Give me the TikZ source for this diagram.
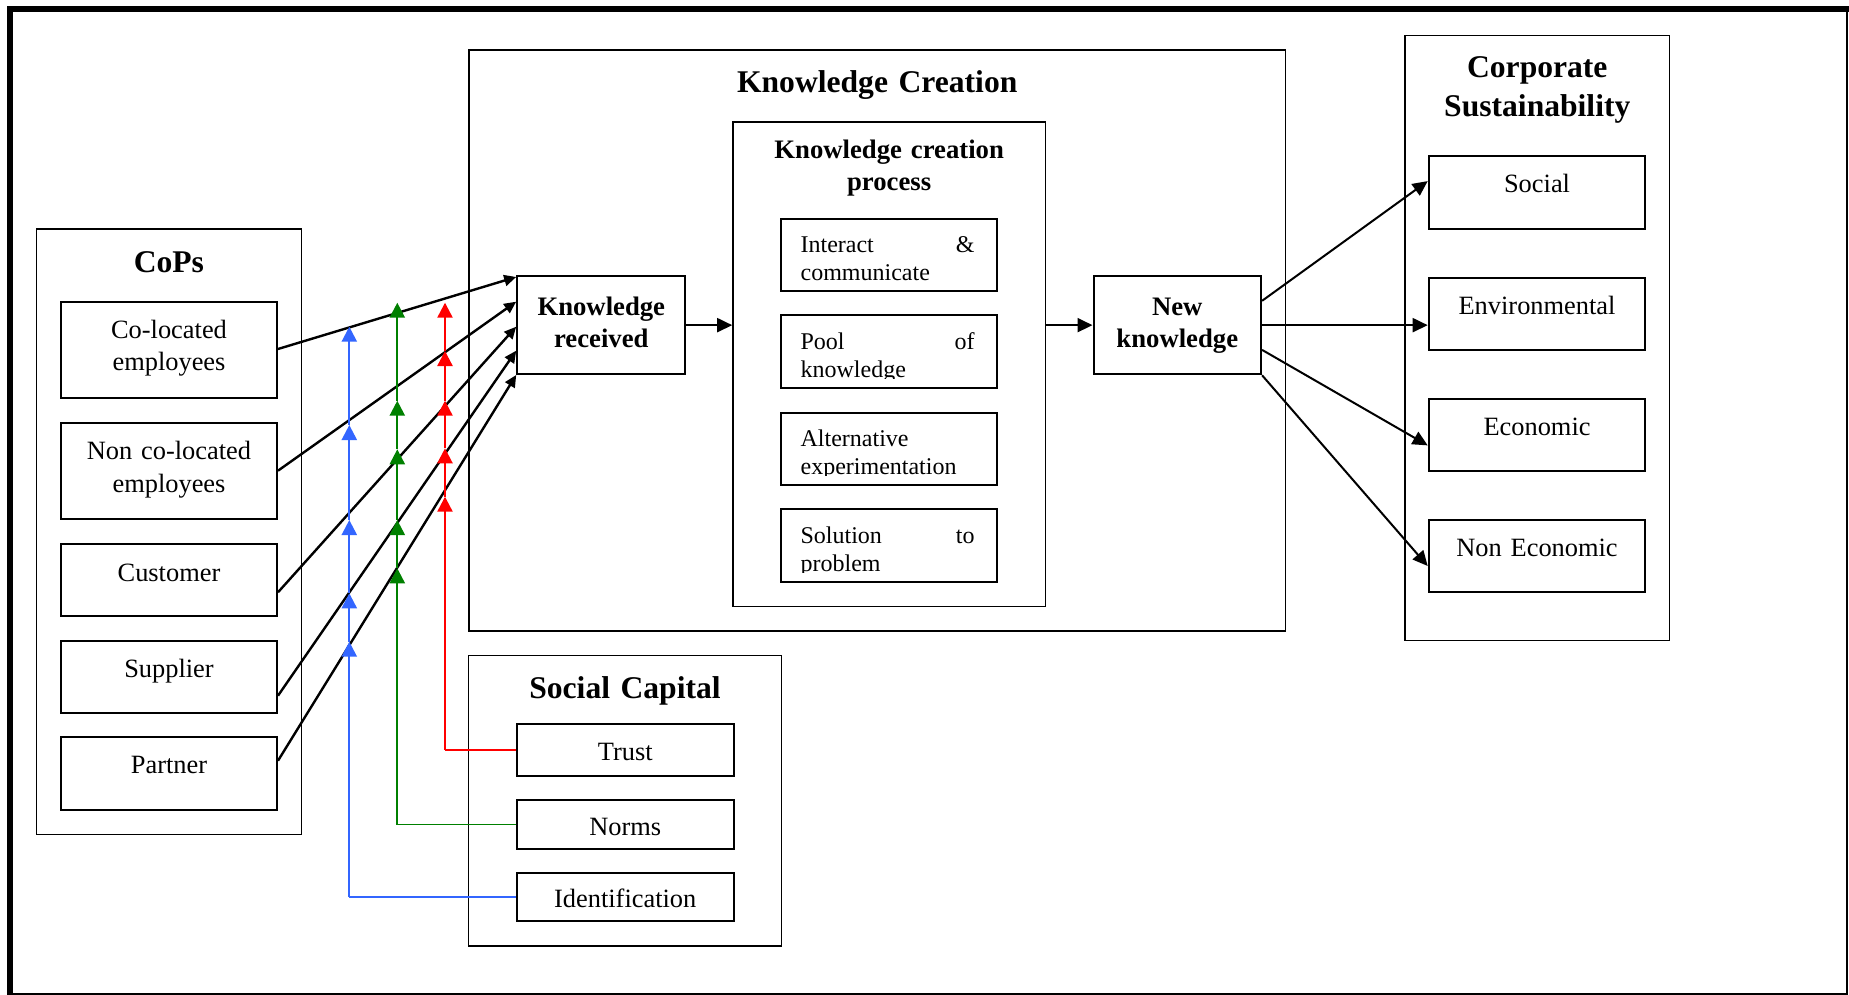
\documentclass[tikz,border=0pt]{standalone}
\usepackage{fontspec}
\setmainfont{Liberation Serif}
\usetikzlibrary{arrows.meta,calc,fit}

\definecolor{idblue}{RGB}{51,102,255}
\definecolor{nmgreen}{RGB}{0,128,0}
\definecolor{trred}{RGB}{255,0,0}

\begin{document}
\begin{tikzpicture}[x=0.5pt,y=-0.5pt,
  grp/.style={draw, line width=0.8pt, inner sep=0pt},
  ibox/.style={draw, line width=1pt, inner sep=0pt},
  ttl/.style={font=\bfseries\fontsize{15.8}{19.6}\selectfont, inner sep=0pt, text width=150pt, align=center},
  sttl/.style={font=\bfseries\fontsize{13.35}{16}\selectfont, inner sep=0pt, text width=140pt, align=center},
  itxt/.style={font=\fontsize{13.2}{16.4}\selectfont, inner sep=0pt, text width=104pt, align=center},
  ptxt/.style={font=\fontsize{12}{14}\selectfont, inner sep=0pt, text width=87pt, align=left},
  sctxt/.style={font=\fontsize{13.2}{16}\selectfont},
  conn/.style={line width=1.2pt, -{Triangle[length=6pt,width=5.5pt]}},
  conn2/.style={line width=1pt, -{Triangle[length=7.5pt,width=7pt]}},
  ctip/.style={line width=1.15pt, -{Triangle[length=7.5pt,width=7.5pt]}},
  cfeed/.style={line width=0.9pt},
]
\useasboundingbox (0,0) rectangle (1849,995);

% page frame: heavy top and left rules, light bottom and right rules
\draw[line width=2.75pt, line join=miter] (10,995) -- (10,8.8) -- (1849,8.8);
\draw[line width=1pt] (12.7,993.5) -- (1847,993.5) -- (1847,11);

% ---------------- CoPs ----------------
\node[grp, fit={(36.6,228.8) (301.3,834.5)}] (cops) {};
\node[ttl, anchor=base] (cops-t) at (168.9,272.2) {CoPs};

\node[ibox, fit={(61,301.7) (277,398.3)}] (cl) {};
\node[ibox, fit={(61,423.3) (277,519.3)}] (ncl) {};
\node[ibox, fit={(61,544) (277,616)}] (cus) {};
\node[ibox, fit={(61,640.7) (277,713.3)}] (sup) {};
\node[ibox, fit={(61,736.7) (277,810)}] (par) {};

\node[itxt, anchor=base] (cl-t)  at ($(cl.north)+(0,37.3)$)  {Co-located\\employees};
\node[itxt, anchor=base] (ncl-t) at ($(ncl.north)+(0,37.3)$) {Non co-located\\employees};
\node[itxt, anchor=base] (cus-t) at ($(cus.north)+(0,38)$)   {Customer};
\node[itxt, anchor=base] (sup-t) at ($(sup.north)+(0,38)$)   {Supplier};
\node[itxt, anchor=base] (par-t) at ($(par.north)+(0,38)$)   {Partner};

% ---------------- Knowledge Creation ----------------
\node[grp, fit={(469,49.8) (1285.3,630.8)}] (kc) {};
\node[ttl, anchor=base] (kc-t) at (877.2,92.8) {Knowledge Creation};

\node[ibox, fit={(517.2,276) (685.4,374.3)}] (kr) {};
\node[sttl, text width=82pt, anchor=base] (kr-t) at ($(kr.north)+(0,40)$) {Knowledge\\received};

\node[grp, fit={(733,122) (1045.3,606.4)}] (proc) {};
\node[sttl, anchor=base] (proc-t) at ($(proc.north)+(0,37.5)$) {Knowledge creation\\process};

\node[ibox, fit={(781.2,218.9) (997.1,291.4)}] (p1) {};
\node[ibox, fit={(781.2,315.4) (997.1,388.2)}] (p2) {};
\node[ibox, fit={(781.2,412.6) (997.1,485.3)}] (p3) {};
\node[ibox, fit={(781.2,509.4) (997.1,582.2)}] (p4) {};

% item texts run past the lower edge and are cut short there
\begin{scope}
  \clip (p1.north west) rectangle ($(p1.south east)+(0,-11)$);
  \node[ptxt, anchor=base west] (p1-t) at ($(p1.north west)+(20,34.8)$) {Interact\hfill\&\\communicate};
\end{scope}
\begin{scope}
  \clip (p2.north west) rectangle ($(p2.south east)+(0,-11)$);
  \node[ptxt, anchor=base west] (p2-t) at ($(p2.north west)+(20,34.8)$) {Pool\hfill of\\knowledge};
\end{scope}
\begin{scope}
  \clip (p3.north west) rectangle ($(p3.south east)+(0,-11)$);
  \node[ptxt, anchor=base west] (p3-t) at ($(p3.north west)+(20,34.8)$) {Alternative\\experimentation};
\end{scope}
\begin{scope}
  \clip (p4.north west) rectangle ($(p4.south east)+(0,-11)$);
  \node[ptxt, anchor=base west] (p4-t) at ($(p4.north west)+(20,34.8)$) {Solution\hfill to\\problem};
\end{scope}

\node[ibox, fit={(1093.5,276) (1261.1,374.3)}] (nk) {};
\node[sttl, text width=82pt, anchor=base] (nk-t) at ($(nk.north)+(0,40)$) {New\\knowledge};

\draw[conn2] (kr.east) -- (kr.east -| proc.west);
\draw[conn2] (proc.east |- nk.west) -- (nk.west);

% ---------------- Corporate Sustainability ----------------
\node[grp, fit={(1405.1,35.7) (1669.4,640.6)}] (cs) {};
\node[ttl, anchor=base] (cs-t) at (1537.3,77.3) {Corporate\\Sustainability};

\node[ibox, fit={(1428.7,156.3) (1645.4,229)}] (soc) {};
\node[ibox, fit={(1428.7,277.7) (1645.4,350.4)}] (env) {};
\node[ibox, fit={(1428.7,398.7) (1645.4,471)}] (eco) {};
\node[ibox, fit={(1428.7,520) (1645.4,592.4)}] (neco) {};

\node[itxt, anchor=base] (soc-t)  at ($(soc.north)+(0,37.6)$)  {Social};
\node[itxt, anchor=base] (env-t)  at ($(env.north)+(0,37.6)$)  {Environmental};
\node[itxt, anchor=base] (eco-t)  at ($(eco.north)+(0,37.6)$)  {Economic};
\node[itxt, anchor=base] (neco-t) at ($(neco.north)+(0,37.6)$) {Non Economic};

\draw[conn2] ($(nk.north east)+(0,25.8)$) -- ($(soc.north west)+(0,25.8)$);
\draw[conn2] (nk.east) -- (nk.east -| env.west);
\draw[conn2] ($(nk.north east)+(0,74.9)$) -- ($(eco.north west)+(0,47.7)$);
\draw[conn2] (nk.south east) -- ($(neco.north west)+(0,47)$);

% ---------------- Social Capital ----------------
\node[grp, fit={(468.4,655.6) (781.6,945.7)}] (sc) {};
\node[ttl, anchor=base] (sc-t) at (625,698.6) {Social Capital};

\node[ibox, fit={(516.8,724) (733.7,776)}] (trust) {};
\node[ibox, fit={(516.8,800.3) (733.7,848.7)}] (norms) {};
\node[ibox, fit={(516.8,872.7) (733.7,921.3)}] (idf) {};
\node[sctxt, inner sep=0pt] (trust-t) at ($(trust.center)+(0,2)$) {Trust};
\node[sctxt, inner sep=0pt] (norms-t) at ($(norms.center)+(0,2)$) {Norms};
\node[sctxt, inner sep=0pt] (idf-t)   at ($(idf.center)+(0,1.5)$)   {Identification};

% ---------------- CoPs -> Knowledge received ----------------
\draw[conn] ($(cl.north east)+(0,48.3)$)  -- ($(kr.north west)+(0,2)$);
\draw[conn] ($(ncl.north east)+(0,48.4)$) -- ($(kr.north west)+(0,26.7)$);
\draw[conn] ($(cus.north east)+(0,49.3)$) -- ($(kr.north west)+(0,51.7)$);
\draw[conn] ($(sup.north east)+(0,56)$)   -- ($(kr.north west)+(0,75.7)$);
\draw[conn] ($(par.north east)+(0,25)$)   -- ($(kr.north west)+(0,100)$);

% ---------------- Social capital moderating lines ----------------
\coordinate (bx) at (349.3,0);
\coordinate (gx) at (397.3,0);
\coordinate (rx) at (445,0);

\coordinate (b0) at (idf.west -| bx);
\coordinate (b1) at (349.3,641.7);
\coordinate (b2) at (349.3,593.3);
\coordinate (b3) at (349.3,520);
\coordinate (b4) at (349.3,425);
\coordinate (b5) at (349.3,326.7);

\coordinate (g0) at (norms.west -| gx);
\coordinate (g1) at (397.3,568.3);
\coordinate (g2) at (397.3,520);
\coordinate (g3) at (397.3,449.3);
\coordinate (g4) at (397.3,400.7);
\coordinate (g5) at (397.3,302.7);

\coordinate (r0) at (trust.west -| rx);
\coordinate (r1) at (445,496.7);
\coordinate (r2) at (445,448.3);
\coordinate (r3) at (445,400.7);
\coordinate (r4) at (445,351);
\coordinate (r5) at (445,302.7);

\draw[cfeed, idblue] (idf.west) -- (b0);
\draw[cfeed, nmgreen] (norms.west) -- (g0);
\draw[cfeed, trred] (trust.west) -- (r0);

\foreach \c/\col in {b/idblue, g/nmgreen, r/trred}{
  \foreach \i [evaluate=\i as \j using int(\i+1)] in {0,...,4}{
    \draw[ctip, \col] (\c\i) -- (\c\j);
  }
}
\end{tikzpicture}
\end{document}
